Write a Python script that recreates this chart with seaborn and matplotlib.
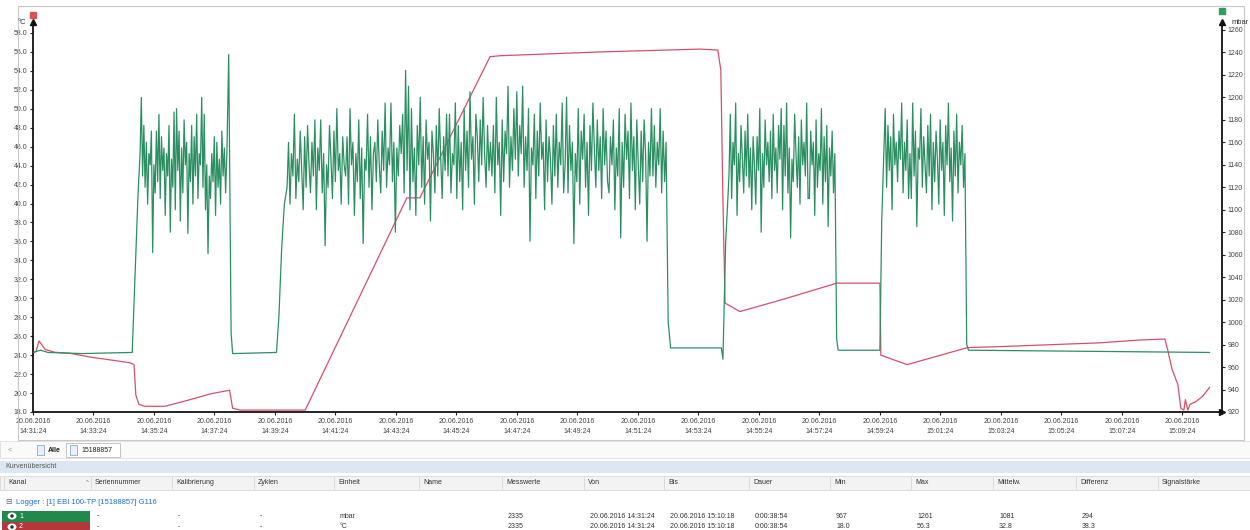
#Logger curve view: pressure (mbar) and temperature (°C)

# Step 1: Import Libraries
import numpy as np
import pandas as pd
import matplotlib.pyplot as plt
import seaborn as sns
from matplotlib.patches import Rectangle, Ellipse

# Step 2: Data (time in minutes after 14:31:24)

# channel 2, temperature in °C
temp_t = [0, 0.1, 0.2, 0.4, 0.73, 1.22, 1.88, 2.55, 3.2, 3.34, 3.4, 3.5, 3.7, 4.36,
          5.19, 5.85, 6.5, 6.6, 6.85, 9.0, 12.36, 12.79, 15.11, 15.44, 18.74, 22.05,
          22.64, 22.74, 22.81, 22.88, 23.37, 24.7, 26.58, 28.0, 28.03, 28.9, 30.9,
          31.97, 35.27, 36.6, 37.42, 37.52, 37.65, 37.85, 37.95, 38.05, 38.1, 38.18,
          38.25, 38.45, 38.68, 38.9]
temp_c = [24.2, 24.4, 25.5, 24.6, 24.3, 24.2, 23.8, 23.5, 23.2, 23.0, 19.8, 18.8, 18.6, 18.6,
          19.3, 19.9, 20.3, 18.4, 18.2, 18.2, 40.6, 40.6, 55.5, 55.6, 56.0, 56.3,
          56.2, 54.1, 40.4, 29.5, 28.6, 29.8, 31.6, 31.6, 24.0, 23.0, 24.8,
          24.9, 25.3, 25.6, 25.7, 24.5, 22.6, 20.9, 18.4, 18.2, 19.3, 18.2,
          18.8, 19.1, 19.7, 20.6]

# channel 1, pressure in mbar: quiet stretches as (time, value) points
press_t = [0, 0.25, 0.5, 1.6, 3.28, 3.33, 3.40, 3.47,
           6.47, 6.55, 6.6, 8.05, 8.13, 8.22, 8.31,
           21.0, 21.08, 22.76, 22.81, 22.9,
           26.57, 26.62, 28.0, 28.06,
           30.87, 30.93, 35.0, 38.9]
press_v = [973, 975, 973, 972, 973, 1010, 1062, 1112,
           1238, 990, 972, 973, 1005, 1065, 1105,
           1000, 977, 977, 967, 1070,
           985, 975, 975, 1090,
           980, 975, 974, 973]

# pressure while the burner runs (logger samples every few seconds)
burst1_span = (3.54, 6.41)
burst1 = [1150, 1200, 1130, 1175, 1120, 1160, 1105, 1150, 1140, 1170,
          1062, 1140, 1115, 1170, 1125, 1185, 1110, 1165, 1135, 1155,
          1095, 1150, 1130, 1175, 1080, 1145, 1120, 1187, 1100, 1190,
          1135, 1170, 1090, 1155, 1115, 1180, 1140, 1160, 1079, 1150,
          1125, 1175, 1105, 1165, 1130, 1185, 1110, 1150, 1140, 1200,
          1120, 1185, 1100, 1140, 1061, 1130, 1110, 1150, 1125, 1165,
          1095, 1160, 1120, 1145, 1105, 1170, 1130, 1155, 1115, 1150]

burst2_span = (8.40, 20.93)
burst2 = [1120, 1160, 1105, 1150, 1130, 1185, 1110, 1145, 1125, 1170,
          1135, 1100, 1165, 1120, 1175, 1140, 1115, 1160, 1130, 1180,
          1100, 1155, 1135, 1180, 1115, 1150, 1068, 1140, 1120, 1175,
          1145, 1110, 1170, 1125, 1190, 1135, 1150, 1105, 1165, 1140,
          1130, 1165, 1105, 1190, 1140, 1160, 1095, 1150, 1125, 1180,
          1110, 1155, 1070, 1145, 1135, 1185, 1120, 1165, 1100, 1150,
          1160, 1125, 1180, 1140, 1115, 1170, 1135, 1195, 1120, 1155,
          1140, 1195, 1125, 1160, 1080, 1155, 1130, 1175, 1150, 1185,
          1115, 1224, 1135, 1210, 1100, 1190, 1125, 1155, 1095, 1175,
          1140, 1200, 1120, 1165, 1105, 1180, 1145, 1160, 1090, 1170,
          1150, 1115, 1175, 1130, 1190, 1145, 1110, 1165, 1135, 1185,
          1130, 1185, 1115, 1150, 1140, 1195, 1110, 1175, 1125, 1160,
          1100, 1190, 1135, 1170, 1120, 1205, 1145, 1165, 1105, 1185,
          1165, 1125, 1180, 1140, 1200, 1150, 1120, 1175, 1135, 1160,
          1130, 1175, 1115, 1200, 1140, 1160, 1095, 1180, 1125, 1170,
          1150, 1210, 1120, 1165, 1135, 1190, 1145, 1205, 1130, 1175,
          1150, 1210, 1120, 1165, 1135, 1190, 1072, 1155, 1140, 1185,
          1110, 1170, 1130, 1195, 1145, 1160, 1100, 1180, 1125, 1165,
          1145, 1105, 1175, 1130, 1185, 1120, 1160, 1140, 1195, 1115,
          1140, 1200, 1115, 1175, 1135, 1160, 1070, 1150, 1125, 1190,
          1105, 1170, 1145, 1185, 1120, 1160, 1095, 1175, 1135, 1195,
          1155, 1120, 1180, 1135, 1165, 1110, 1190, 1140, 1170, 1125,
          1115, 1165, 1140, 1180, 1100, 1155, 1130, 1190, 1075, 1160,
          1120, 1185, 1145, 1170, 1110, 1195, 1135, 1165, 1100, 1180,
          1140, 1105, 1170, 1125, 1180, 1150, 1072, 1160, 1130, 1190,
          1130, 1175, 1120, 1160, 1140, 1190, 1115, 1170, 1125, 1160]

burst3_span = (23.01, 26.51)
burst3 = [1130, 1185, 1110, 1160, 1140, 1195, 1095, 1150, 1125, 1175,
          1145, 1115, 1170, 1130, 1185, 1120, 1155, 1100, 1165, 1140,
          1105, 1165, 1135, 1190, 1080, 1150, 1120, 1180, 1140, 1160,
          1125, 1170, 1110, 1185, 1135, 1155, 1115, 1175, 1145, 1190,
          1100, 1175, 1130, 1195, 1115, 1155, 1075, 1145, 1125, 1185,
          1150, 1120, 1165, 1105, 1180, 1140, 1160, 1130, 1195, 1110,
          1110, 1170, 1140, 1160, 1095, 1180, 1120, 1150, 1135, 1190,
          1105, 1165, 1125, 1175, 1085, 1155, 1130, 1170, 1115, 1150]

burst4_span = (28.13, 30.81)
burst4 = [1150, 1190, 1120, 1175, 1135, 1165, 1100, 1185, 1140, 1160,
          1125, 1170, 1145, 1195, 1115, 1160, 1135, 1180, 1110, 1150,
          1110, 1195, 1130, 1170, 1085, 1155, 1145, 1190, 1120, 1165,
          1140, 1115, 1175, 1130, 1185, 1100, 1160, 1125, 1170, 1145,
          1105, 1180, 1135, 1160, 1095, 1175, 1140, 1195, 1125, 1155,
          1090, 1170, 1130, 1185, 1115, 1160, 1140, 1175, 1120, 1150]

time_labels = ['14:31:24', '14:33:24', '14:35:24', '14:37:24', '14:39:24', '14:41:24',
               '14:43:24', '14:45:24', '14:47:24', '14:49:24', '14:51:24', '14:53:24',
               '14:55:24', '14:57:24', '14:59:24', '15:01:24', '15:03:24', '15:05:24',
               '15:07:24', '15:09:24']
date_label = '20.06.2016'

# table under the chart
column_names = ['Kanal', 'Seriennummer', 'Kalibrierung', 'Zyklen', 'Einheit', 'Name',
                'Messwerte', 'Von', 'Bis', 'Dauer', 'Min', 'Max', 'Mittelw.',
                'Differenz', 'Signalstärke']
row_mbar = ['1', '-', '-', '-', 'mbar', '', '2335', '20.06.2016 14:31:24',
            '20.06.2016 15:10:18', '0:00:38:54', '967', '1261', '1081', '294', '']
row_degc = ['2', '-', '-', '-', '°C', '', '2335', '20.06.2016 14:31:24',
            '20.06.2016 15:10:18', '0:00:38:54', '18.0', '56.3', '32.8', '38.3', '']

# Step 3: Build the pressure table
parts = [pd.DataFrame({'t': press_t, 'mbar': press_v})]
for span, vals in [(burst1_span, burst1), (burst2_span, burst2),
                   (burst3_span, burst3), (burst4_span, burst4)]:
    parts.append(pd.DataFrame({'t': np.linspace(span[0], span[1], len(vals)), 'mbar': vals}))
press = pd.concat(parts).sort_values('t').reset_index(drop=True)
temp = pd.DataFrame({'t': temp_t, 'degc': temp_c})

# Step 4: Plot
sns.set_style("white")
plt.rcParams['font.family'] = ['Liberation Sans', 'DejaVu Sans']

W, H = 1250, 530
def px(x, y):
    return x / W, 1 - y / H

fig = plt.figure(figsize=(12.5, 5.3), dpi=100)
ax = fig.add_axes([33 / W, 1 - 412 / H, 1189 / W, 390 / H])
ax2 = ax.twinx()

red = '#d4506a'
green = '#2b8f62'
sns.lineplot(data=temp, x='t', y='degc', ax=ax, color=red, lw=0.9, estimator=None)
sns.lineplot(data=press, x='t', y='mbar', ax=ax2, color=green, lw=0.9, estimator=None)

ax.set_xlim(0, 39.31)
ax.set_ylim(18, 59.16)
ax2.set_ylim(920, 1267.1)
ax.set_xlabel('')
ax.set_ylabel('')
ax2.set_ylabel('')

ax.set_xticks(np.arange(0, 40, 2))
ax.set_xticklabels([date_label + '\n' + s for s in time_labels], linespacing=1.7)
ax.set_yticks(np.arange(18, 59, 2))
ax.set_yticklabels([f"{v:.1f}" for v in np.arange(18, 59, 2)])
ax2.set_yticks(np.arange(920, 1261, 20))
ax2.set_yticklabels([str(v) for v in np.arange(920, 1261, 20)])

ax.tick_params(axis='both', labelsize=5, length=2, pad=2, colors='#222', labelcolor='#444',
               left=True, bottom=True)
ax2.tick_params(axis='y', labelsize=5, length=2, pad=2, colors='#222', labelcolor='#444', right=True)

for a in (ax, ax2):
    for s in a.spines.values():
        s.set_visible(False)
ax.spines['left'].set_visible(True)
ax.spines['bottom'].set_visible(True)
ax2.spines['right'].set_visible(True)
for s in (ax.spines['left'], ax.spines['bottom'], ax2.spines['right']):
    s.set_color('#111')
    s.set_linewidth(1.3)

# axis arrows and channel markers
ax.plot([0], [1], marker='^', color='#111', ms=4, transform=ax.transAxes, clip_on=False)
ax.plot([1], [1], marker='^', color='#111', ms=4, transform=ax.transAxes, clip_on=False)
ax.plot([1], [0], marker='>', color='#111', ms=4, transform=ax.transAxes, clip_on=False)
ax.plot([0], [1.018], marker='s', color='#d9534f', ms=5, transform=ax.transAxes, clip_on=False)
ax.plot([1], [1.028], marker='s', color='#2e9e5e', ms=5, transform=ax.transAxes, clip_on=False)

fig.text(*px(22, 23), '°C', fontsize=5.5, ha='center', va='center', color='#333')
fig.text(*px(1240, 23), 'mbar', fontsize=5.5, ha='center', va='center', color='#333')

# Step 5: Window frame and table below
def box(x0, y0, x1, y1, **kw):
    fig.add_artist(Rectangle(px(x0, y1), (x1 - x0) / W, (y1 - y0) / H,
                             transform=fig.transFigure, **kw))

box(18, 6, 1244, 440, fill=False, ec='#c8c8c8', lw=0.8)
box(0, 441, 1250, 458, fc='#fafafa', ec='#dddddd', lw=0.6)
box(66, 443, 120, 457, fc='white', ec='#bbbbbb', lw=0.6)
fig.text(*px(8, 450), '<', fontsize=5.5, va='center', color='#999')
box(37, 445, 44, 455, fc='#e8f0fb', ec='#7a9cc6', lw=0.5)
fig.text(*px(48, 450), 'Alle', fontsize=5, va='center', color='#222', weight='bold')
box(70, 445, 77, 455, fc='#e8f0fb', ec='#7a9cc6', lw=0.5)
fig.text(*px(81, 450), '15188857', fontsize=5, va='center', color='#222')

box(0, 461, 1250, 473, fc='#dce7f3', ec='none')
fig.text(*px(5, 467), 'Kurvenübersicht', fontsize=5, va='center', color='#555')

box(0, 476, 1250, 490, fc='#f3f3f3', ec='#d0d0d0', lw=0.5)
col_x = [8, 95, 176, 258, 338, 423, 506, 588, 668, 753, 834, 915, 997, 1080, 1162]
for x, name in zip(col_x, column_names):
    fig.text(*px(x, 483), name, fontsize=5, va='center', color='#333')
    fig.add_artist(plt.Line2D([(x - 4) / W] * 2, [1 - 477 / H, 1 - 489 / H],
                              transform=fig.transFigure, color='#d0d0d0', lw=0.5))
fig.text(*px(86, 483), '^', fontsize=4.5, va='center', color='#777')

fig.text(*px(5, 503), '⊟', fontsize=5.5, va='center', color='#666')
fig.text(*px(16, 503), 'Logger : [1] EBI 100-TP [15188857] G116', fontsize=5.5,
         va='center', color='#1f6fd1')

for y, vals, cell in [(516, row_mbar, '#1f8a4c'), (527, row_degc, '#b5373c')]:
    box(2, y - 5.5, 90, y + 5.5, fc=cell, ec='none')
    fig.add_artist(Ellipse(px(12, y), 9 / W, 7 / H, transform=fig.transFigure, fc='white', ec='none'))
    fig.add_artist(Ellipse(px(12, y), 3.5 / W, 3.5 / H, transform=fig.transFigure, fc='#333', ec='none'))
    fig.text(*px(19, y), vals[0], fontsize=5, va='center', color='white')
    for x, v in zip(col_x[1:], vals[1:]):
        fig.text(*px(x + 2, y), v, fontsize=5, va='center', color='#333')

plt.savefig("out.png", dpi=100)
